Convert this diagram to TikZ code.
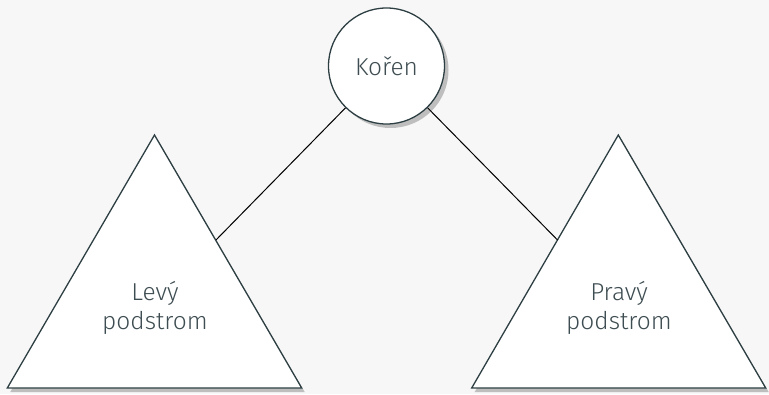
\documentclass[tikz,border=0pt]{standalone}
\usepackage{fontspec}
\setmainfont{Fira Sans}[UprightFont=* Light]
\definecolor{bgc}{HTML}{F7F7F7}
\definecolor{edgec}{HTML}{2E3F43}
\definecolor{txtc}{HTML}{3E4D52}
\definecolor{shadc}{HTML}{BEBEBE}
\begin{document}
\begin{tikzpicture}[x=1pt,y=1pt,
  treenode/.style={circle,draw=edgec,line width=1.3pt,fill=white,minimum size=116pt,inner sep=0pt,text=txtc,font=\fontsize{24.5}{28}\selectfont},
  subtree/.style={draw=edgec,line width=1.3pt,fill=white,line join=miter},
  shadowfill/.style={fill=shadc},
  label/.style={text=txtc,font=\fontsize{24.5}{28.5}\selectfont,align=center,inner sep=0pt},
  conn/.style={draw=black,line width=1pt}]
\fill[bgc] (0,0) rectangle (769,394);
\useasboundingbox (0,0) rectangle (769,394);
% shadows
\fill[shadowfill] (386.5+4,328-4) circle (58);
\fill[shadowfill] (154.5+3,259-4) -- (7.3+3,6-4) -- (301.7+3,6-4) -- cycle;
\fill[shadowfill] (618.3+3,259-4) -- (471.7+3,6-4) -- (765.7+3,6-4) -- cycle;
% triangles
\draw[subtree] (154.5,259) coordinate (ltop) -- (7.3,6) coordinate (lbl) -- (301.7,6) coordinate (lbr) -- cycle;
\draw[subtree] (618.3,259) coordinate (rtop) -- (471.7,6) coordinate (rbl) -- (765.7,6) coordinate (rbr) -- cycle;
\coordinate (lattach) at (216,154);
\coordinate (rattach) at (557.5,154);
\node[label] (ltext) at (155,86) {Levý\\podstrom};
\node[label] (rtext) at (619,86) {Pravý\\podstrom};
% root
\node[treenode] (root) at (386.5,328) {\raisebox{-1.5pt}{Kořen}};
\draw[conn] (root) -- (lattach);
\draw[conn] (root) -- (rattach);
\end{tikzpicture}
\end{document}
